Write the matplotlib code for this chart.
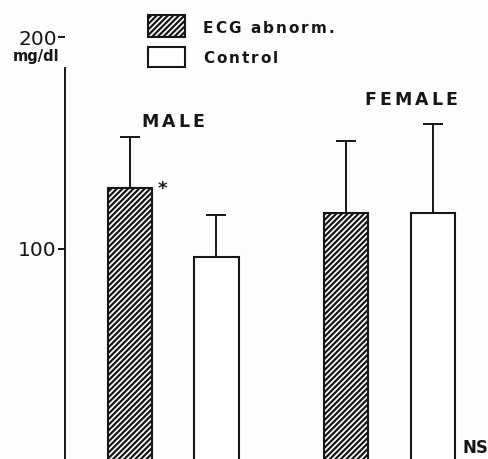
import matplotlib

matplotlib.use("Agg")
import matplotlib.pyplot as plt
from matplotlib.patches import Rectangle
from matplotlib.transforms import IdentityTransform
import numpy as np

# mean serum level (mg/dl) with upper SD, per sex and group
groups = ["ECG abnorm.", "Control"]
sexes = ["MALE", "FEMALE"]
means = [129, 96, 117, 117]
sds = [24, 20, 34, 42]
hatches = ["//////", "", "//////", ""]
significance = ["*", "NS"]
yticks = [100, 200]

plt.rcParams["hatch.linewidth"] = 1.6
plt.rcParams["font.family"] = ["DejaVu Sans"]
INK = "#161616"

W, H = 489, 459
fig = plt.figure(figsize=(W / 100, H / 100), dpi=100)
fig.patch.set_facecolor("#fdfdfd")
ax = fig.add_axes([65 / W, 0, 1 - 65 / W, (H - 37) / H])
ax.set_facecolor("none")
renderer = fig.canvas.get_renderer()


def text_width(s, **kw):
    tmp = fig.text(0, 0, s, **kw)
    w = tmp.get_window_extent(renderer).width
    tmp.remove()
    return w


def tracked_text(x, y, s, track, transform, ha="left", **kw):
    """Letter-spaced text; y is the baseline, track is extra space in pixels."""
    bar_w = text_width("|", **kw)
    offsets = [text_width(s[:i] + "|", **kw) - bar_w for i in range(len(s))]
    total = text_width(s + "|", **kw) - bar_w + track * (len(s) - 1)
    x0, y0 = transform.transform((x, y))
    if ha == "center":
        x0 -= total / 2
    for i, ch in enumerate(s):
        if ch == " ":
            continue
        fig.text(x0 + offsets[i] + track * i, y0, ch, transform=IdentityTransform(),
                 ha="left", va="baseline", **kw)


x = np.array([0, 1, 2.5, 3.5])
ax.bar(x, means, width=0.51, color="white", edgecolor=INK, linewidth=1.5,
       hatch=hatches, zorder=2)
ax.errorbar(x, means, yerr=[np.zeros(len(sds)), sds], fmt="none", ecolor=INK,
            elinewidth=1.4, capsize=7, capthick=1.4, zorder=1)

ax.set_xlim(-0.751, 4.15)
ax.set_ylim(0.94, 200)

for side in ("top", "right", "bottom"):
    ax.spines[side].set_visible(False)
ax.spines["left"].set_linewidth(1.4)
ax.spines["left"].set_color(INK)
ax.spines["left"].set_bounds(0.94, 185.4)
ax.set_xticks([])
ax.set_yticks(yticks)
ax.set_yticklabels([str(t) for t in yticks])
ax.tick_params(axis="y", direction="out", length=5, width=1.4, colors=INK,
               labelsize=14.5, pad=1)

bold = dict(fontweight="bold", color=INK)

# unit label under the top tick
ax.text(-0.068, 188.7, "mg/dl", transform=ax.get_yaxis_transform(), ha="center",
        va="baseline", fontsize=10.5, **bold)

# sex labels
tracked_text(0.5, 157.5, sexes[0], 3, ax.transData, ha="center", fontsize=12.5, **bold)
tracked_text(3.25, 167.9, sexes[1], 3, ax.transData, ha="center", fontsize=12.5, **bold)

# significance marks
ax.text(x[0] + 0.32, means[0] - 0.7, significance[0], ha="left", va="center",
        fontsize=13, **bold)
ax.text(x[3] + 0.34, 3.8, significance[1], ha="left", va="baseline",
        fontsize=12, **bold)

# legend drawn by hand so the labels can carry the wide letter spacing
to_fig = fig.transFigure
fig.add_artist(Rectangle((148 / W, 1 - 37 / H), 37 / W, 22 / H, transform=to_fig,
                         facecolor="white", edgecolor=INK, linewidth=1.5, hatch="//////"))
fig.add_artist(Rectangle((148 / W, 1 - 67 / H), 37 / W, 20 / H, transform=to_fig,
                         facecolor="white", edgecolor=INK, linewidth=1.5))
tracked_text(203 / W, 1 - 33 / H, groups[0], 2, to_fig, fontsize=11, **bold)
tracked_text(203 / W, 1 - 63 / H, groups[1], 2, to_fig, fontsize=11, **bold)

fig.savefig("out.png", dpi=100, facecolor=fig.get_facecolor())
